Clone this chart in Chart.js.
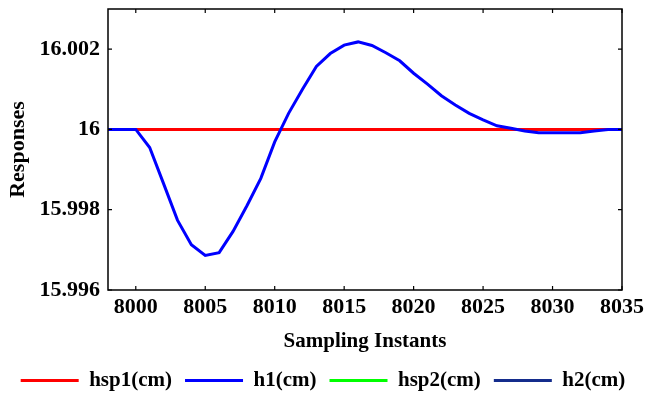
<!DOCTYPE html>
<html lang="en">
<head>
  <meta charset="UTF-8">
  <title>Responses</title>
  <script src="https://cdn.jsdelivr.net/npm/chart.js"></script>
  <style>
    html, body { margin: 0; padding: 0; background: #fff; }
    #wrap { width: 646px; height: 401px; }
  </style>
</head>
<body>
  <div id="wrap">
    <canvas id="myChart" width="646" height="401"></canvas>
  </div>

  <script>
    // sampling instants (x axis)
    const instants = [7998, 7999, 8000, 8001, 8002, 8003, 8004, 8005, 8006, 8007,
      8008, 8009, 8010, 8011, 8012, 8013, 8014, 8015, 8016, 8017,
      8018, 8019, 8020, 8021, 8022, 8023, 8024, 8025, 8026, 8027,
      8028, 8029, 8030, 8031, 8032, 8033, 8034, 8035];

    // set point of tank 1
    const hsp1 = [16, 16, 16, 16, 16, 16, 16, 16, 16, 16,
      16, 16, 16, 16, 16, 16, 16, 16, 16, 16,
      16, 16, 16, 16, 16, 16, 16, 16, 16, 16,
      16, 16, 16, 16, 16, 16, 16, 16];

    // level of tank 1
    const h1 = [16, 16, 16, 15.99955, 15.99865, 15.99774, 15.99713, 15.99686, 15.99693, 15.99746,
      15.9981, 15.99878, 15.99969, 16.0004, 16.001, 16.00157, 16.00189, 16.0021, 16.00218, 16.00209,
      16.00191, 16.00171, 16.0014, 16.00113, 16.00084, 16.00061, 16.0004, 16.00024, 16.00009, 16.00003,
      15.99996, 15.99992, 15.99992, 15.99992, 15.99992, 15.99996, 16, 16];

    // second tank: only shown in the legend
    const hsp2 = [];
    const h2 = [];

    const xTicks = [8000, 8005, 8010, 8015, 8020, 8025, 8030, 8035];
    const yTicks = [15.996, 15.998, 16, 16.002];
    const yTickLabels = ['15.996', '15.998', '16', '16.002'];

    const serif = "'Liberation Serif', 'Times New Roman', serif";

    function pts(ys) {
      return ys.map((y, i) => ({ x: instants[i], y: y }));
    }

    // box round the plot and small inward ticks on all four sides
    const frame = {
      id: 'frame',
      afterDatasetsDraw(chart) {
        const ctx = chart.ctx;
        const a = chart.chartArea;
        const sx = chart.scales.x, sy = chart.scales.y;
        const len = 4;
        ctx.save();
        ctx.strokeStyle = '#000';
        ctx.lineWidth = 1.5;
        ctx.strokeRect(a.left, a.top, a.right - a.left, a.bottom - a.top);
        ctx.lineWidth = 1.2;
        ctx.beginPath();
        xTicks.forEach(v => {
          const px = sx.getPixelForValue(v);
          ctx.moveTo(px, a.bottom); ctx.lineTo(px, a.bottom - len);
          ctx.moveTo(px, a.top); ctx.lineTo(px, a.top + len);
        });
        yTicks.forEach(v => {
          const py = sy.getPixelForValue(v);
          ctx.moveTo(a.left, py); ctx.lineTo(a.left + len, py);
          ctx.moveTo(a.right, py); ctx.lineTo(a.right - len, py);
        });
        ctx.stroke();
        ctx.restore();
      }
    };

    const ctx = document.getElementById('myChart').getContext('2d');
    new Chart(ctx, {
      type: 'line',
      data: {
        datasets: [
          { label: 'hsp1(cm)', data: pts(hsp1), borderColor: '#ff0000', backgroundColor: '#ff0000', borderWidth: 3, order: 1 },
          { label: 'h1(cm)', data: pts(h1), borderColor: '#0000ff', backgroundColor: '#0000ff', borderWidth: 3, order: 0 },
          { label: 'hsp2(cm)', data: hsp2, borderColor: '#00ff00', backgroundColor: '#00ff00', borderWidth: 3, order: 2 },
          { label: 'h2(cm)', data: h2, borderColor: '#142c8c', backgroundColor: '#142c8c', borderWidth: 3, order: 3 }
        ]
      },
      options: {
        responsive: false,
        animation: false,
        events: [],
        elements: {
          point: { radius: 0 },
          line: { tension: 0, fill: false }
        },
        layout: { padding: { top: 9, right: 0, left: 0, bottom: 0 } },
        scales: {
          x: {
            type: 'linear',
            min: 7998,
            max: 8035,
            afterBuildTicks: s => { s.ticks = xTicks.map(v => ({ value: v })); },
            afterFit: s => { s.height = 67; s.paddingLeft = 0; s.paddingRight = 24; },
            grid: { display: false, drawTicks: false },
            border: { display: false },
            ticks: {
              padding: 4,
              color: '#000',
              font: { family: serif, size: 22, weight: 'bold' },
              maxRotation: 0,
              callback: v => String(v)
            },
            title: {
              display: true,
              text: 'Sampling Instants',
              color: '#000',
              font: { family: serif, size: 21, weight: 'bold' },
              padding: { top: 0, bottom: 3 }
            }
          },
          y: {
            type: 'linear',
            min: 15.996,
            max: 16.003,
            afterBuildTicks: s => { s.ticks = yTicks.map(v => ({ value: v })); },
            afterFit: s => { s.width = 108; s.paddingTop = 0; s.paddingBottom = 0; },
            grid: { display: false, drawTicks: false },
            border: { display: false },
            ticks: {
              padding: 8,
              color: '#000',
              font: { family: serif, size: 22, weight: 'bold' },
              callback: v => yTickLabels[yTicks.indexOf(v)] ?? String(v)
            },
            title: {
              display: true,
              text: 'Responses',
              color: '#000',
              font: { family: serif, size: 22, weight: 'bold' },
              padding: { top: 5, bottom: 0 }
            }
          }
        },
        plugins: {
          legend: {
            position: 'bottom',
            labels: {
              color: '#000',
              font: { family: serif, size: 21, weight: 'bold' },
              boxWidth: 58,
              boxHeight: 3,
              padding: 13,
              sort: (a, b) => a.datasetIndex - b.datasetIndex,
              generateLabels: chart => chart.data.datasets.map((d, i) => ({
                text: d.label,
                fillStyle: d.borderColor,
                strokeStyle: d.borderColor,
                lineWidth: 0,
                fontColor: '#000',
                hidden: false,
                datasetIndex: i
              }))
            }
          },
          tooltip: { enabled: false }
        }
      },
      plugins: [frame]
    });
  </script>
</body>
</html>
